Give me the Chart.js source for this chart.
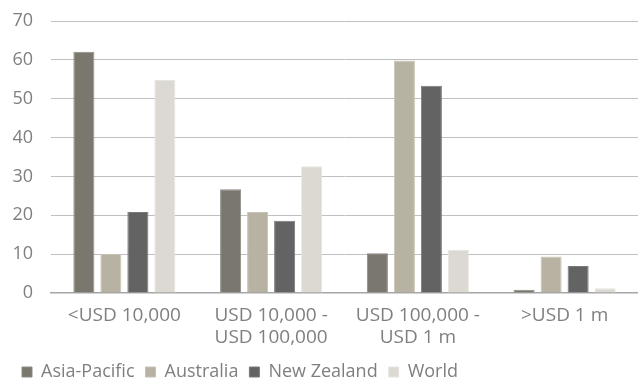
<!DOCTYPE html>
<html>
<head>
<meta charset="utf-8">
<script src="https://cdn.jsdelivr.net/npm/chart.js@4"></script>
<style>
  html, body { margin: 0; padding: 0; background: #fff; }
  #wrap { width: 638px; height: 378px; }
</style>
</head>
<body>
<div id="wrap"><canvas id="myBarChart" width="638" height="378"></canvas></div>
<script>
// data (percent)
const categories = [["<USD 10,000"], ["USD 10,000 -", "USD 100,000"], ["USD 100,000 -", "USD 1 m"], [">USD 1 m"]];
const asiaPacific = [62.1, 26.7, 10.2, 0.8];
const australia = [10.0, 20.8, 59.8, 9.4];
const newZealand = [20.8, 18.6, 53.3, 6.9];
const world = [54.8, 32.6, 11.1, 1.2];
const yTicks = [0, 10, 20, 30, 40, 50, 60, 70];

const textColor = "#7f7f7f";
const family = "'Open Sans', 'Noto Sans', sans-serif";

const data = {
    labels: categories,
    datasets: [
        { label: "Asia-Pacific", data: asiaPacific, backgroundColor: "#7a776e", borderColor: "#8e8b84" },
        { label: "Australia", data: australia, backgroundColor: "#b8b2a2", borderColor: "#c7c2b5" },
        { label: "New Zealand", data: newZealand, backgroundColor: "#636363", borderColor: "#7a7a7a" },
        { label: "World", data: world, backgroundColor: "#dbd9d2", borderColor: "#e6e4df" }
    ]
};

const options = {
    responsive: false,
    animation: false,
    layout: { padding: { left: 11, top: 21, right: 0, bottom: -13 } },
    datasets: {
        bar: { categoryPercentage: 0.736, barPercentage: 0.78, borderWidth: 1 }
    },
    scales: {
        x: {
            grid: { display: false, drawTicks: false },
            border: { display: true, color: "#a6a6a6", width: 1.5 },
            ticks: { color: textColor, font: { family: family, size: 19, lineHeight: 1.16 }, padding: 12, maxRotation: 0, autoSkip: false },
            afterFit: (axis) => { axis.height -= 9; }
        },
        y: {
            min: 0,
            max: 70,
            afterBuildTicks: (axis) => { axis.ticks = yTicks.map(v => ({ value: v })); },
            afterFit: (axis) => { axis.width = 40; axis.paddingTop = 0; },
            grid: { color: "#c0c0c0", lineWidth: 1, drawTicks: false },
            border: { display: false },
            ticks: { color: textColor, font: { family: family, size: 18 }, padding: 18 }
        }
    },
    plugins: {
        legend: {
            position: "bottom",
            align: "start",
            labels: { color: textColor, font: { family: family, size: 18 }, boxWidth: 10, boxHeight: 10, padding: 11 }
        },
        tooltip: { enabled: false }
    }
};

const ctx = document.getElementById("myBarChart").getContext("2d");
const myBarChart = new Chart(ctx, { type: "bar", data: data, options: options });
</script>
</body>
</html>
